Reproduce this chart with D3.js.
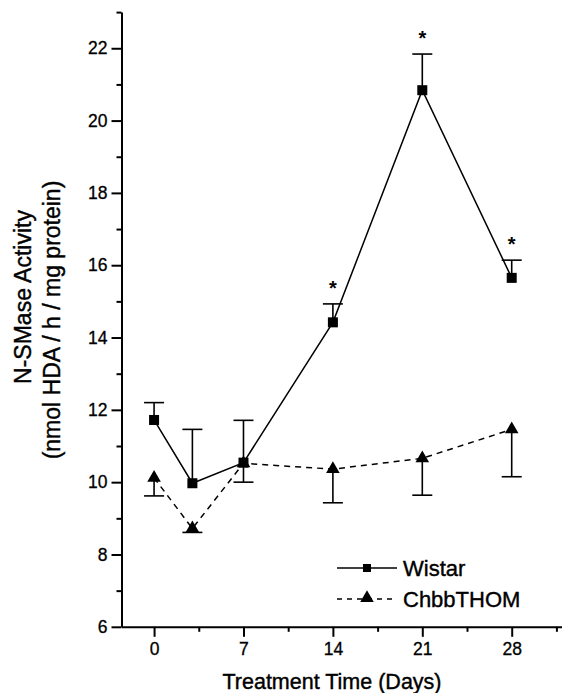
<!DOCTYPE html>
<html lang="en">
<head>
<meta charset="UTF-8">
<title>N-SMase Activity</title>
<script src="https://cdnjs.cloudflare.com/ajax/libs/d3/7.8.5/d3.min.js"></script>
<style>
  body { margin: 0; background: #fff; }
  svg { display: block; font-family: "Liberation Sans", Arial, sans-serif; }
  .axis path, .axis line { stroke: #000; stroke-width: 2; }
  .axis text { font-size: 17.5px; fill: #000; stroke: #000; stroke-width: 0.3; }
  .label { fill: #000; stroke: #000; stroke-width: 0.4; }
</style>
</head>
<body>
<div id="chart"></div>
<script>
// data
const days = [0, 3, 7, 14, 21, 28];
const wistar = [11.72, 9.97, 10.54, 14.42, 20.84, 15.65];
const wistarErr = [0.48, 1.49, 1.17, 0.51, 1.0, 0.49];   // drawn upward
const chbb = [10.12, 8.72, 10.52, 10.36, 10.66, 11.46];
const chbbErr = [0.5, 0.11, 0.52, 0.93, 1.02, 1.31];      // drawn downward
const significant = [false, false, false, true, true, true];
const xTicks = [0, 7, 14, 21, 28];
const yTicks = [6, 8, 10, 12, 14, 16, 18, 20, 22];

const W = 562, H = 693;
const svg = d3.select("#chart").append("svg")
    .attr("width", W).attr("height", H);

const x = d3.scaleLinear().domain([-2.55, 32]).range([121.5, 154 + 32 * 12.775]);
const y = d3.scaleLinear().domain([6, 23]).range([626.8, 12.1]);

// minor ticks
svg.append("g").attr("class", "axis")
    .attr("transform", `translate(${x(-2.55)},0)`)
    .call(d3.axisLeft(y).tickValues(d3.range(7, 24, 2)).tickSize(5).tickFormat(""))
    .select(".domain").remove();
svg.append("g").attr("class", "axis")
    .attr("transform", `translate(0,${y(6)})`)
    .call(d3.axisBottom(x).tickValues([3.5, 10.5, 17.5, 24.5, 31.5]).tickSize(5).tickFormat(""))
    .select(".domain").remove();

// major axes
svg.append("g").attr("class", "axis")
    .attr("transform", `translate(${x(-2.55)},0)`)
    .call(d3.axisLeft(y).tickValues(yTicks).tickSize(10).tickSizeOuter(0).tickPadding(4));
svg.append("g").attr("class", "axis")
    .attr("transform", `translate(0,${y(6)})`)
    .call(d3.axisBottom(x).tickValues(xTicks).tickSize(10).tickSizeOuter(0).tickPadding(6));

// axis titles
svg.append("text").attr("class", "label")
    .attr("x", 332).attr("y", 689)
    .attr("text-anchor", "middle")
    .attr("font-size", 21.5)
    .text("Treatment Time (Days)");
svg.append("text").attr("class", "label")
    .attr("transform", "translate(31,297) rotate(-90)")
    .attr("text-anchor", "middle")
    .attr("font-size", 23)
    .text("N-SMase Activity");
svg.append("text").attr("class", "label")
    .attr("transform", "translate(60,320) rotate(-90)")
    .attr("text-anchor", "middle")
    .attr("font-size", 23)
    .text("(nmol HDA / h / mg protein)");

const line = d3.line().x(d => x(d[0])).y(d => y(d[1]));
const capW = 10;

// error bars
days.forEach((d, i) => {
  const g = svg.append("g").attr("stroke", "#000").attr("stroke-width", 1.6);
  const wTop = wistar[i] + wistarErr[i];
  g.append("line").attr("x1", x(d)).attr("x2", x(d)).attr("y1", y(wistar[i])).attr("y2", y(wTop));
  g.append("line").attr("x1", x(d) - capW).attr("x2", x(d) + capW).attr("y1", y(wTop)).attr("y2", y(wTop));
  const cBot = chbb[i] - chbbErr[i];
  g.append("line").attr("x1", x(d)).attr("x2", x(d)).attr("y1", y(chbb[i])).attr("y2", y(cBot));
  g.append("line").attr("x1", x(d) - capW).attr("x2", x(d) + capW).attr("y1", y(cBot)).attr("y2", y(cBot));
});

// lines
svg.append("path")
    .datum(days.map((d, i) => [d, chbb[i]]))
    .attr("fill", "none").attr("stroke", "#000").attr("stroke-width", 1.5)
    .attr("stroke-dasharray", "6,5")
    .attr("d", line);
svg.append("path")
    .datum(days.map((d, i) => [d, wistar[i]]))
    .attr("fill", "none").attr("stroke", "#000").attr("stroke-width", 1.5)
    .attr("d", line);

// markers
const tri = d3.symbol().type(d3.symbolTriangle).size(80);
svg.selectAll(".tri").data(days).enter().append("path")
    .attr("transform", (d, i) => `translate(${x(d)},${y(chbb[i])})`)
    .attr("d", tri).attr("fill", "#000");
svg.selectAll(".sq").data(days).enter().append("rect")
    .attr("x", d => x(d) - 5).attr("y", (d, i) => y(wistar[i]) - 5)
    .attr("width", 10).attr("height", 10).attr("fill", "#000");

// significance marks
days.forEach((d, i) => {
  if (!significant[i]) return;
  svg.append("text")
      .attr("x", x(d)).attr("y", y(wistar[i] + wistarErr[i]) - 9)
      .attr("text-anchor", "middle").attr("font-size", 20).attr("font-weight", "bold")
      .text("*");
});

// legend
const leg = svg.append("g");
leg.append("line").attr("x1", 337).attr("x2", 397).attr("y1", 568).attr("y2", 568)
    .attr("stroke", "#000").attr("stroke-width", 1.5);
leg.append("rect").attr("x", 363).attr("y", 564).attr("width", 8).attr("height", 8).attr("fill", "#000");
leg.append("text").attr("class", "label").attr("x", 403).attr("y", 576).attr("font-size", 22).text("Wistar");
leg.append("line").attr("x1", 337).attr("x2", 397).attr("y1", 599).attr("y2", 599)
    .attr("stroke", "#000").attr("stroke-width", 1.5).attr("stroke-dasharray", "5,5");
leg.append("path").attr("transform", "translate(367,598)").attr("d", tri).attr("fill", "#000");
leg.append("text").attr("class", "label").attr("x", 403).attr("y", 607).attr("font-size", 22).text("ChbbTHOM");
</script>
</body>
</html>
